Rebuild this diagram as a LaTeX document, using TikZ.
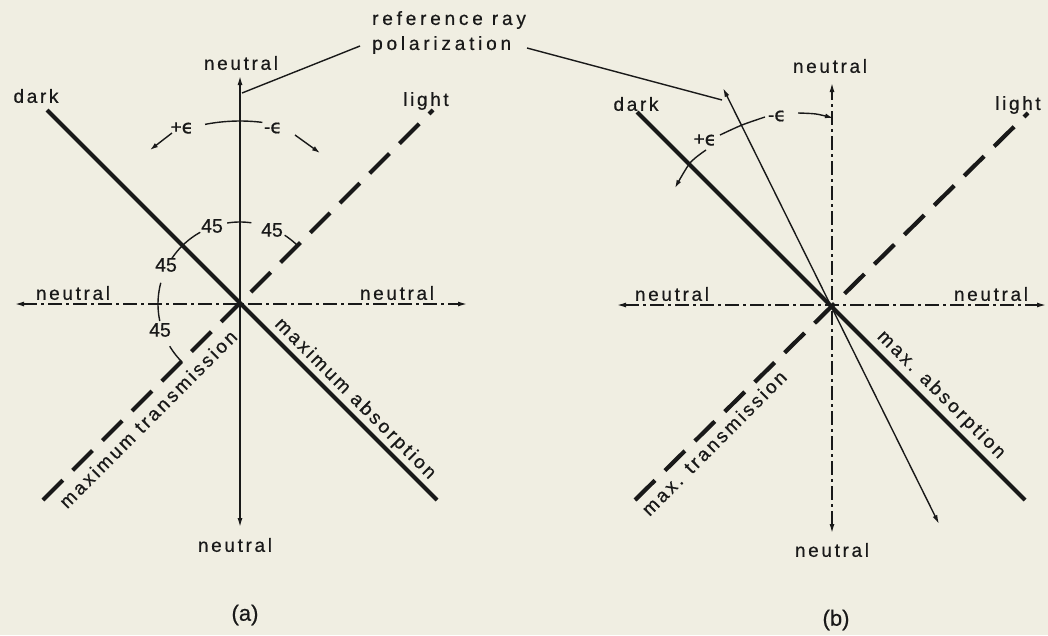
\documentclass[tikz,border=0pt]{standalone}
\usepackage{fontspec}
\setmainfont{Liberation Sans}[FakeBold=0.6]
\newfontfamily\lbl[LetterSpace=14,FakeBold=0.6]{Liberation Sans}
\newfontfamily\lblw[LetterSpace=20,FakeBold=0.6]{Liberation Sans}
\newfontfamily\grk[FakeBold=0.6]{DejaVu Sans}
\newcommand{\eps}{{\grk ϵ}}
\usetikzlibrary{arrows.meta}
\definecolor{paper}{RGB}{240,238,226}
\definecolor{ink}{RGB}{25,25,25}
\begin{document}
\begin{tikzpicture}[x=1pt,y=-1pt,
  lab/.style={font=\lbl\fontsize{19}{22}\selectfont, text=ink, inner sep=0pt},
  labw/.style={font=\lblw\fontsize{19}{22}\selectfont, text=ink, inner sep=0pt},
  num/.style={font=\fontsize{19.5}{22}\selectfont, text=ink, inner sep=0pt},
  capt/.style={font=\fontsize{22}{26}\selectfont, text=ink, inner sep=0pt},
  thinl/.style={draw=ink, line width=1.4pt},
  axisl/.style={draw=ink, line width=1.4pt, dash pattern=on 14pt off 4pt on 3pt off 4pt},
  darkl/.style={draw=ink, line width=4.2pt},
  lightl/.style={draw=ink, line width=4.2pt, dash pattern=on 28pt off 14pt},
  tip/.style={-{Latex[length=8pt,width=5pt]}},
  tips/.style={{Latex[length=9pt,width=5pt]}-{Latex[length=9pt,width=5pt]}},
]
\fill[paper] (0,0) rectangle (1048,635);
\useasboundingbox (0,0) rectangle (1048,635);

% ---------------- panel (a) ----------------
\coordinate (ca) at (240,304);
\coordinate (aTop) at (240,76);
\coordinate (aBot) at (240,527);
\coordinate (aLeft) at (15,304);
\coordinate (aRight) at (467,304);
\coordinate (aDarkA) at (47,110);
\coordinate (aDarkB) at (437,500);
\coordinate (aLightA) at (43,500);
\coordinate (aLightB) at (433,110);

\draw[thinl,tips] (aBot) -- (aTop);
\draw[axisl,tips] (aLeft) -- (aRight);
\draw[darkl] (aDarkA) -- (aDarkB);
\draw[lightl] (aLightA) -- (aLightB);

\node[lab] (aNtop) at (241,63) {neutral};
\node[lab] (aNbot) at (235,545) {neutral};
\node[lab] (aNleft) at (73,293) {neutral};
\node[lab] (aNright) at (397,293) {neutral};
\node[lab] (aDark) at (36,96) {dark};
\node[lab] (aLight) at (426,101) {light};

% epsilon arc
\draw[thinl] plot[domain=83:101,samples=20] ({240+183*cos(\x)},{304-183*sin(\x)});
\node[lab] (aPe) at (182,128) {+\eps};
\node[lab] (aMe) at (273,128) {-\eps};
\coordinate (aArL0) at (172,133);
\coordinate (aArL1) at (150,150);
\coordinate (aArR0) at (295,135);
\coordinate (aArR1) at (320,153);
\draw[thinl,tip] (aArL0) -- (aArL1);
\draw[thinl,tip] (aArR0) -- (aArR1);

% 45 degree arcs
\foreach \a/\b in {45/57, 82/99, 119/146, 165/192, 211/225}{
  \draw[thinl] plot[domain=\a:\b,samples=15] ({240+82*cos(\x)},{304-82*sin(\x)});
}
\node[num] (a45a) at (212,226) {45};
\node[num] (a45b) at (272,230) {45};
\node[num] (a45c) at (166,265) {45};
\node[num] (a45d) at (160,330) {45};

\node[lab,rotate=45] (aTrans) at (148,419) {maximum transmission};
\node[lab,rotate=-45] (aAbs) at (355,399) {maximum absorption};

% labels top
\node[labw,anchor=west] (ref1) at (372,20) {reference ray};
\node[labw,anchor=west] (ref2) at (372,45) {polarization};
\coordinate (lead1) at (242,93);
\coordinate (lead2) at (722,100);
\coordinate (lead1s) at (360,46);
\coordinate (lead2s) at (527,48);
\draw[thinl] (lead1s) -- (lead1);
\draw[thinl] (lead2s) -- (lead2);

\node[capt] (capA) at (245,615) {(a)};

% ---------------- panel (b) ----------------
\coordinate (cb) at (832,305);
\coordinate (bTop) at (832,83);
\coordinate (bBot) at (832,533);
\coordinate (bLeft) at (617,305);
\coordinate (bRight) at (1046,305);
\coordinate (bDarkA) at (637,112);
\coordinate (bDarkB) at (1025,500);
\coordinate (bLightA) at (635,500);
\coordinate (bLightB) at (1028,113);
\coordinate (bRayA) at (723,88);
\coordinate (bRayB) at (939,524);

\draw[axisl,tips] (bBot) -- (bTop);
\draw[axisl,tips] (bLeft) -- (bRight);
\draw[darkl] (bDarkA) -- (bDarkB);
\draw[lightl] (bLightA) -- (bLightB);
\draw[thinl,tips] (bRayB) -- (bRayA);

\node[lab] (bNtop) at (830,66) {neutral};
\node[lab] (bNbot) at (832,550) {neutral};
\node[lab] (bNleft) at (672,294) {neutral};
\node[lab] (bNright) at (991,294) {neutral};
\node[lab] (bDark) at (636,104) {dark};
\node[lab] (bLight) at (1018,105) {light};

\draw[thinl,tip] plot[smooth] coordinates {(798,113) (816,114) (833,118)};
\draw[thinl] plot[smooth] coordinates {(765,117) (742,125) (720,135)};
\draw[thinl,tip] plot[smooth] coordinates {(706,150) (690,163) (675,188)};
\node[lab] (bMe) at (777,116) {-\eps};
\node[lab] (bPe) at (705,140) {+\eps};

\node[lab,rotate=45] (bTrans) at (714,443) {max. transmission};
\node[lab,rotate=-45] (bAbs) at (941,395) {max. absorption};

\node[capt] (capB) at (836,620) {(b)};
\end{tikzpicture}
\end{document}
